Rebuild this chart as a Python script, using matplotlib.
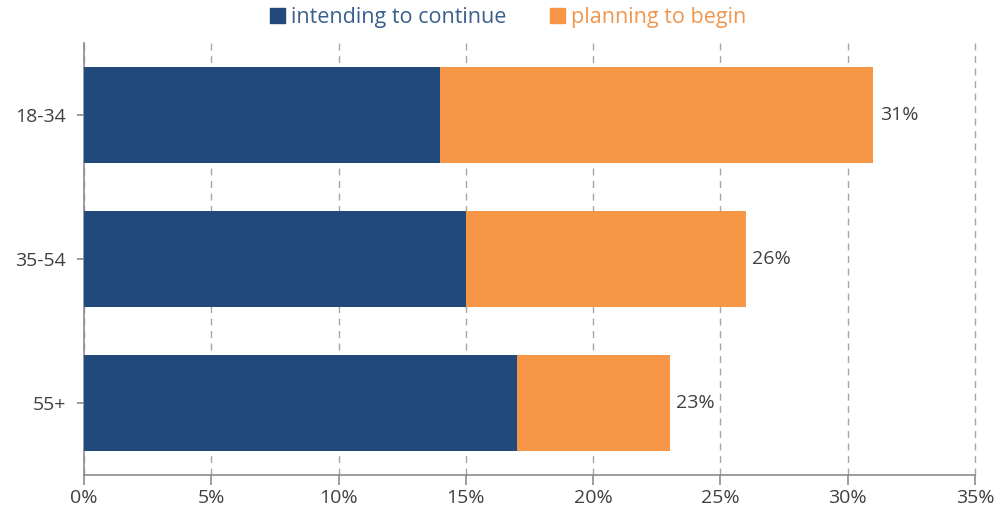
import matplotlib
matplotlib.use("Agg")
import matplotlib.pyplot as plt
from matplotlib.patches import Patch
from matplotlib.ticker import FuncFormatter, MultipleLocator

age_groups = ["18-34", "35-54", "55+"]
intending_to_continue = [14, 15, 17]
planning_to_begin = [17, 11, 6]
totals = [31, 26, 23]

BLUE = "#21497B"
ORANGE = "#F79646"
TEXT = "#404040"
AXIS = "#8C8C8C"

plt.rcParams["font.family"] = ["Open Sans", "DejaVu Sans"]

fig = plt.figure(figsize=(9.96, 5.12), dpi=100)
ax = fig.add_axes([0.0843, 0.0723, 0.8947, 0.8437])

y = range(len(age_groups))
ax.barh(y, intending_to_continue, height=0.67, color=BLUE, zorder=3)
ax.barh(y, planning_to_begin, left=intending_to_continue, height=0.67,
        color=ORANGE, zorder=3)

for i, total in enumerate(totals):
    ax.text(total + 0.25, i, f"{total}%", va="center", ha="left",
            fontsize=14, color=TEXT)

ax.set_xlim(0, 35)
ax.set_ylim(2.5, -0.5)
ax.set_yticks(list(y))
ax.set_yticklabels(age_groups)
ax.xaxis.set_major_locator(MultipleLocator(5))
ax.xaxis.set_major_formatter(FuncFormatter(lambda v, _: f"{v:.0f}%"))

ax.grid(axis="x", color="#A6A6A6", linestyle=(0, (5, 4)), linewidth=1, zorder=0)
for line in ax.get_xgridlines():
    line.set_clip_on(False)
for side in ("top", "right"):
    ax.spines[side].set_visible(False)
for side in ("left", "bottom"):
    ax.spines[side].set_color(AXIS)
    ax.spines[side].set_linewidth(1.2)

ax.tick_params(axis="both", colors=AXIS, labelcolor=TEXT, labelsize=14,
               width=1.2)
ax.tick_params(axis="x", length=7, pad=3)
ax.tick_params(axis="y", length=5, pad=8)

handles = [Patch(color=BLUE), Patch(color=ORANGE)]
fig.legend(handles, ["intending to continue", "planning to begin"],
           loc="upper center", bbox_to_anchor=(0.51, 1.025), ncol=2,
           frameon=False, fontsize=15.5, labelcolor=["#3A5F8C", "#F0964E"],
           handlelength=0.7, handleheight=0.7, handletextpad=0.3,
           columnspacing=2.0)

fig.savefig("out.png", dpi=100)
